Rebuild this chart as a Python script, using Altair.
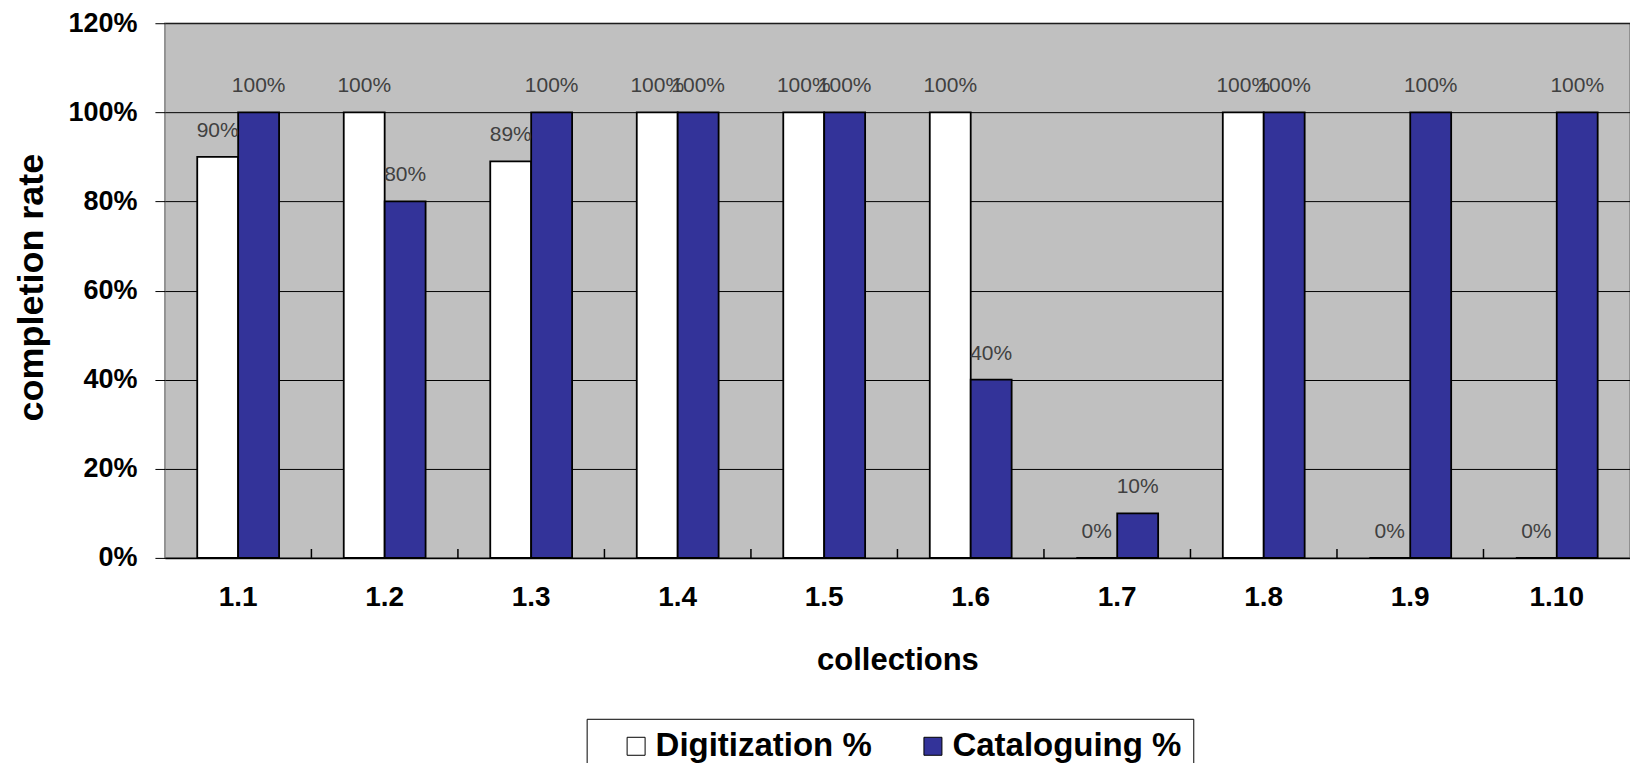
import altair as alt
import pandas as pd

collections = ["1.1", "1.2", "1.3", "1.4", "1.5", "1.6", "1.7", "1.8", "1.9", "1.10"]
digitization = [0.90, 1.00, 0.89, 1.00, 1.00, 1.00, 0.00, 1.00, 0.00, 0.00]
cataloguing = [1.00, 0.80, 1.00, 1.00, 1.00, 0.40, 0.10, 1.00, 1.00, 1.00]
series = ["Digitization %", "Cataloguing %"]
colors = ["#FFFFFF", "#333399"]
y_ticks = [0, 0.2, 0.4, 0.6, 0.8, 1.0, 1.2]

rows = []
for c, d, k in zip(collections, digitization, cataloguing):
    rows.append({"collection": c, "series": series[0], "value": d})
    rows.append({"collection": c, "series": series[1], "value": k})
df = pd.DataFrame(rows)
bounds = pd.DataFrame({"collection": collections[1:]})

FONT = "Liberation Sans"

x_axis = alt.Axis(
    title="collections",
    titleFont=FONT, titleFontSize=31, titleFontWeight="bold", titleColor="black",
    titleY=112, titleBaseline="alphabetic", titleAlign="center",
    labelAngle=0, labelFont=FONT, labelFontSize=28, labelFontWeight="bold",
    labelColor="black", labelPadding=26, ticks=False,
    domainColor="black", domainWidth=1.5, grid=False,
)
y_axis = alt.Axis(
    title="completion rate",
    titleFont=FONT, titleFontSize=36, titleFontWeight="bold", titleColor="black",
    titleX=-133, titleY=264, titleAngle=270, titleAlign="center", titleBaseline="middle",
    format=".0%", values=y_ticks, tickSize=10, tickColor="black", tickWidth=1,
    labelFont=FONT, labelFontSize=27, labelFontWeight="bold", labelColor="black",
    labelPadding=18, domain=False, grid=True, gridColor="black", gridWidth=1,
)
x_scale = alt.Scale(paddingInner=0, paddingOuter=0)
y_scale = alt.Scale(domain=[0, 1.2], nice=False)

x_enc = alt.X("collection:N", sort=collections, scale=x_scale, axis=x_axis)
y_enc = alt.Y("value:Q", scale=y_scale, axis=y_axis)
xoff = alt.XOffset("series:N", sort=series, scale=alt.Scale(paddingOuter=0.79, paddingInner=0))

bars = alt.Chart(df).mark_bar(stroke="black", strokeWidth=1.8).encode(
    x=x_enc,
    y=y_enc,
    xOffset=xoff,
    color=alt.Color(
        "series:N",
        sort=series,
        scale=alt.Scale(domain=series, range=colors),
        legend=alt.Legend(
            orient="none", legendX=422, legendY=696, direction="horizontal", title=None,
            labelFont=FONT, labelFontSize=33, labelFontWeight="bold", labelColor="black",
            labelLimit=400, gridAlign="none",
            symbolType="square", symbolSize=324, symbolStrokeColor="black", symbolStrokeWidth=1,
            strokeColor="black", fillColor="white", padding=11, columnPadding=22,
            symbolOffset=22, labelOffset=3,
        ),
    ),
)

labels = alt.Chart(df).mark_text(
    dy=-20, baseline="alphabetic", fontSize=21, color="#404040", font=FONT
).encode(
    x=x_enc,
    y=y_enc,
    xOffset=xoff,
    text=alt.Text("value:Q", format=".0%"),
)

ticks = alt.Chart(bounds).mark_rule(color="black", strokeWidth=1.5).encode(
    x=alt.X("collection:N", sort=collections, scale=x_scale, axis=x_axis, bandPosition=0),
    y=alt.datum(0),
    y2=alt.datum(0.02),
)

chart = alt.layer(bars, labels, ticks).properties(
    width=1466,
    height=535,
    autosize=alt.AutoSizeParams(type="none"),
    padding={"left": 157, "top": 15, "right": 0, "bottom": 205},
    background="white",
).configure_view(
    fill="#C0C0C0", stroke="#808080", strokeWidth=1.5
)

chart.save("out.html", embed_options={"renderer": "svg", "actions": False})
